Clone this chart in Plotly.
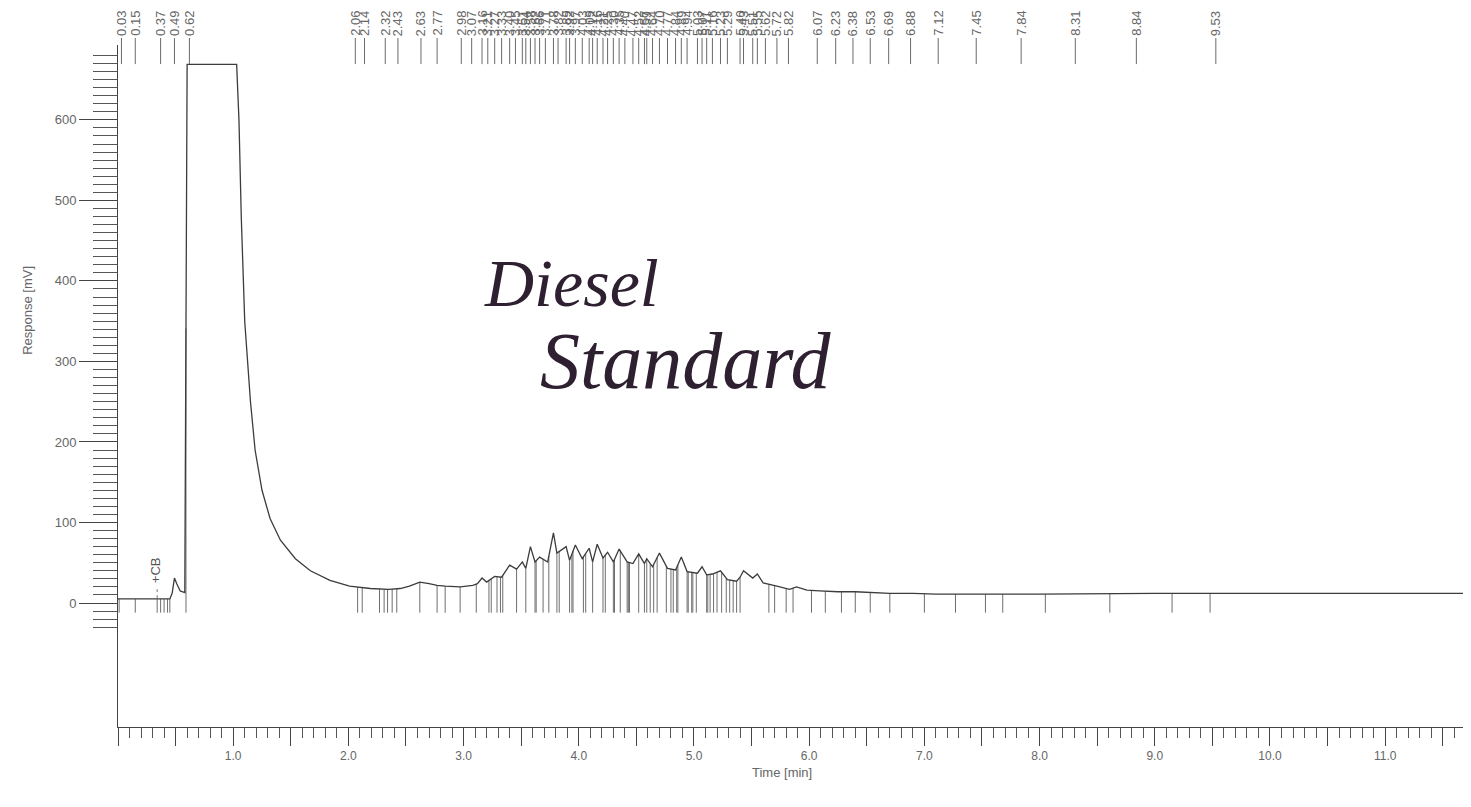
import numpy as np
import plotly.graph_objects as go

# chromatogram trace (time in min, response in mV)
time_min = [0.00, 0.30, 0.45, 0.47, 0.49, 0.51, 0.54, 0.58, 0.60, 1.03, 1.05, 1.07,
            1.10, 1.15, 1.19, 1.25, 1.32, 1.41, 1.54, 1.67, 1.84, 2.01, 2.19, 2.35,
            2.45, 2.53, 2.62, 2.70, 2.77, 2.84, 2.97, 3.08, 3.12, 3.16, 3.20, 3.27,
            3.33, 3.40, 3.46, 3.51, 3.54, 3.58, 3.62, 3.66, 3.73, 3.78, 3.81, 3.89,
            3.92, 3.97, 4.03, 4.09, 4.12, 4.16, 4.21, 4.25, 4.30, 4.35, 4.42, 4.47,
            4.52, 4.57, 4.59, 4.64, 4.70, 4.77, 4.84, 4.89, 4.94, 5.03, 5.07, 5.11,
            5.16, 5.23, 5.29, 5.37, 5.40, 5.43, 5.51, 5.55, 5.60, 5.72, 5.83, 5.89,
            5.98, 6.09, 6.25, 6.40, 6.55, 6.70, 6.90, 7.10, 7.50, 8.00, 9.00, 10.00,
            11.00, 11.75]
response_mv = [5, 5, 5, 12, 31, 24, 15, 13, 669, 669, 600, 480,
               350, 250, 190, 140, 105, 78, 55, 40, 28, 21, 18, 17,
               18, 21, 26, 24, 22, 21, 20, 22, 24, 31, 26, 33,
               32, 47, 42, 51, 43, 70, 51, 57, 51, 87, 62, 70,
               53, 72, 55, 68, 51, 73, 56, 63, 51, 67, 51, 49,
               61, 49, 55, 45, 62, 43, 41, 57, 39, 37, 45, 35,
               36, 40, 29, 27, 32, 40, 31, 36, 25, 21, 17, 20,
               16, 15, 14, 14, 13, 12, 12, 11, 11, 11, 12, 12,
               12, 12]

# integration drop lines (peak boundaries)
drop_times = [0.01, 0.15, 0.34, 0.37, 0.40, 0.43, 0.45, 0.59,
              2.08, 2.12, 2.27, 2.31, 2.34, 2.38, 2.42, 2.62, 2.77, 2.84, 2.97,
              3.11, 3.22, 3.24, 3.29, 3.32, 3.34, 3.46, 3.54, 3.62, 3.63, 3.69,
              3.74, 3.81, 3.83, 3.92, 3.94, 3.95, 4.04, 4.06, 4.12, 4.21, 4.23,
              4.30, 4.31, 4.36, 4.42, 4.43, 4.44, 4.52, 4.57, 4.59, 4.62, 4.65,
              4.68, 4.76, 4.80, 4.82, 4.85, 4.86, 4.94, 4.95, 4.98, 4.99, 5.02,
              5.11, 5.12, 5.14, 5.17, 5.20, 5.24, 5.28, 5.31, 5.34, 5.37, 5.40,
              5.65, 5.70, 5.80, 5.86, 6.02, 6.14, 6.28, 6.40, 6.53, 6.70, 7.00,
              7.27, 7.53, 7.68, 8.05, 8.61, 9.15, 9.48]
DROP_BASE = -12

# retention-time labels along the top
peak_times = [0.03, 0.15, 0.37, 0.49, 0.62,
              2.06, 2.14, 2.32, 2.43, 2.63, 2.77,
              2.98, 3.07, 3.16, 3.21, 3.27, 3.33, 3.40, 3.45, 3.51, 3.54, 3.58,
              3.62, 3.66, 3.71, 3.78, 3.82, 3.89, 3.92, 3.97, 4.03, 4.09, 4.12,
              4.16, 4.21, 4.25, 4.30, 4.35, 4.40, 4.47, 4.52, 4.57, 4.59, 4.64,
              4.70, 4.77, 4.84, 4.89, 4.94, 5.03, 5.07, 5.11, 5.16, 5.23, 5.29,
              5.40, 5.43, 5.51, 5.55, 5.62, 5.72, 5.82,
              6.07, 6.23, 6.38, 6.53, 6.69, 6.88, 7.12, 7.45, 7.84, 8.31, 8.84, 9.53]

x_major = [i * 0.5 for i in range(24)]
x_labels = [f"{v:.1f}" if v % 1 == 0 and v > 0 else "" for v in x_major]
y_major = list(range(0, 700, 50))
y_labels = [str(v) if v % 100 == 0 else "" for v in y_major]
y_minor = list(range(-30, 690, 10))

INK = "#444444"
TXT = "#666666"
FONT = "Liberation Sans"
HAND = "#2e2030"

fig = go.Figure()

# drop lines
tops = np.interp(drop_times, time_min, response_mv)
dx, dy = [], []
for t, top in zip(drop_times, tops):
    dx += [t, t, None]
    dy += [DROP_BASE, top, None]
fig.add_scatter(x=dx, y=dy, mode="lines", line=dict(color="#6e6e6e", width=1),
                hoverinfo="skip", showlegend=False)

fig.add_scatter(x=time_min, y=response_mv, mode="lines",
                line=dict(color="#3c3c3c", width=1.3), showlegend=False)

# peak labels + their little ticks at the top
for t in peak_times:
    fig.add_annotation(x=t, xref="x", y=1.0103, yref="paper", text=f"{t:.2f}",
                       textangle=-90, showarrow=False, xanchor="center", yanchor="bottom",
                       font=dict(family=FONT, size=13, color=TXT))
    fig.add_shape(type="line", xref="x", yref="paper", x0=t, x1=t, y0=1.0103, y1=0.972,
                  line=dict(color="#6a6a6a", width=1))

# +CB marker
fig.add_annotation(x=0.32, y=22, text="+CB", textangle=-90, showarrow=False,
                   xanchor="center", yanchor="bottom",
                   font=dict(family=FONT, size=13, color="#555555"))
fig.add_shape(type="line", x0=0.34, x1=0.34, y0=6, y1=20,
              line=dict(color="#777777", width=1, dash="dot"))

# handwritten note
fig.add_annotation(x=3.94, y=398, text="Diesel", showarrow=False,
                   font=dict(family="Liberation Serif", size=68, color=HAND, style="italic"))
fig.add_annotation(x=4.93, y=300, text="Standard", showarrow=False,
                   font=dict(family="Liberation Serif", size=80, color=HAND, style="italic"))

# axis titles
fig.add_annotation(x=-0.0739, xref="paper", y=0.611, yref="paper", text="Response [mV]",
                   textangle=-90, showarrow=False, font=dict(family=FONT, size=13, color=TXT))
fig.add_annotation(x=0.4908, xref="paper", y=-0.066, yref="paper", text="Time [min]",
                   showarrow=False, yanchor="middle", font=dict(family=FONT, size=13, color=TXT))

# page body has an 8px margin, so the figure is sized/offset to land on the same pixels
fig.update_layout(
    width=1463, height=799,
    margin=dict(l=110, r=0, t=37, b=80),
    paper_bgcolor="white", plot_bgcolor="white",
    font=dict(family=FONT, size=13, color=TXT),
    showlegend=False,
    xaxis=dict(range=[0, 11.745], showgrid=False, zeroline=False,
               showline=True, linecolor=INK, linewidth=1,
               tickmode="array", tickvals=x_major, ticktext=x_labels,
               ticks="outside", ticklen=18, tickcolor=INK, tickwidth=1,
               tickfont=dict(family=FONT, size=12, color=TXT),
               minor=dict(dtick=0.1, tick0=0, ticks="outside", ticklen=10,
                          tickcolor="#555555", tickwidth=1)),
    yaxis=dict(range=[-154, 693], showgrid=False, zeroline=False,
               showline=True, linecolor=INK, linewidth=1,
               tickmode="array", tickvals=y_major, ticktext=y_labels,
               ticks="outside", ticklen=38, tickcolor=INK, tickwidth=1,
               tickfont=dict(family=FONT, size=13, color=TXT),
               minor=dict(tickmode="array", tickvals=y_minor, ticks="outside",
                          ticklen=24, tickcolor="#555555", tickwidth=1)),
)

fig.write_html("out.html")
